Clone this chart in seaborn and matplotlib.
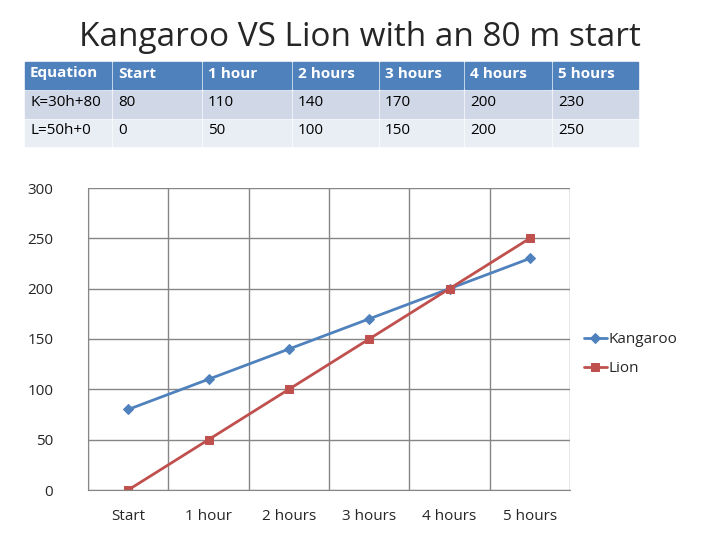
import matplotlib
matplotlib.use("Agg")
import matplotlib.pyplot as plt
import seaborn as sns
from matplotlib.patches import Rectangle

categories = ["Start", "1 hour", "2 hours", "3 hours", "4 hours", "5 hours"]
kangaroo = [80, 110, 140, 170, 200, 230]
lion = [0, 50, 100, 150, 200, 250]
equations = ["K=30h+80", "L=50h+0"]

sns.set_style("white")
plt.rcParams['font.family'] = ['Open Sans', 'DejaVu Sans']

fig = plt.figure(figsize=(7.2, 5.4), dpi=100)
W, H = 720, 540
fig.text(360 / W, 1 - 38 / H, "Kangaroo VS Lion with an 80 m start", ha="center", va="center", fontsize=24)

# table
cols = [25, 113, 203, 293, 380, 465, 553, 640]
rows = [60, 89, 118, 146]
header = ["Equation"] + categories
body = [[equations[0]] + [str(v) for v in kangaroo], [equations[1]] + [str(v) for v in lion]]
fills = ["#4F81BD", "#D0D8E8", "#E9EDF4"]
for r in range(3):
    texts = header if r == 0 else body[r - 1]
    for c in range(7):
        x0, x1 = cols[c], cols[c + 1]
        y0, y1 = rows[r], rows[r + 1]
        fig.patches.append(Rectangle((x0 / W, 1 - y1 / H), (x1 - x0 - 2) / W, (y1 - y0 - 2) / H,
                                     transform=fig.transFigure, color=fills[r], zorder=0))
        fig.text((x0 + 5) / W, 1 - ((y0 + y1) / 2 - 1) / H, texts[c], ha="left", va="center", fontsize=11,
                 color="white" if r == 0 else "black", fontweight="bold" if r == 0 else "normal")

ax = fig.add_axes([88 / W, 50 / H, 482 / W, 302 / H])
x = list(range(6))
sns.lineplot(x=x, y=kangaroo, ax=ax, color="#4F81BD", marker="D", markersize=5, lw=2,
             markeredgecolor="#4F81BD", label="Kangaroo")
sns.lineplot(x=x, y=lion, ax=ax, color="#C0504D", marker="s", markersize=6, lw=2,
             markeredgecolor="#C0504D", label="Lion")
ax.set_xlim(-0.5, 5.5)
ax.set_ylim(0, 300)
ax.set_yticks(range(0, 301, 50))
ax.set_xticks(x)
ax.set_xticklabels(categories)
ax.set_xticks([i - 0.5 for i in range(7)], minor=True)
ax.grid(True, which="minor", axis="x", color="#868686", lw=1)
ax.grid(True, which="major", axis="y", color="#868686", lw=1)
ax.tick_params(axis="x", which="major", length=0, labelsize=11, pad=14)
ax.tick_params(axis="x", which="minor", length=5, color="#868686", direction="out")
ax.tick_params(axis="y", labelsize=11, length=5, color="#868686", direction="out", pad=20)
for s in ["top", "right"]:
    ax.spines[s].set_visible(False)
for s in ["left", "bottom"]:
    ax.spines[s].set_color("#868686")
ax.legend(loc="center left", bbox_to_anchor=(1.0, 0.45), frameon=False, fontsize=11,
          handlelength=1.5, handletextpad=0.1, labelspacing=0.9)
fig.savefig("out.png", dpi=100)
